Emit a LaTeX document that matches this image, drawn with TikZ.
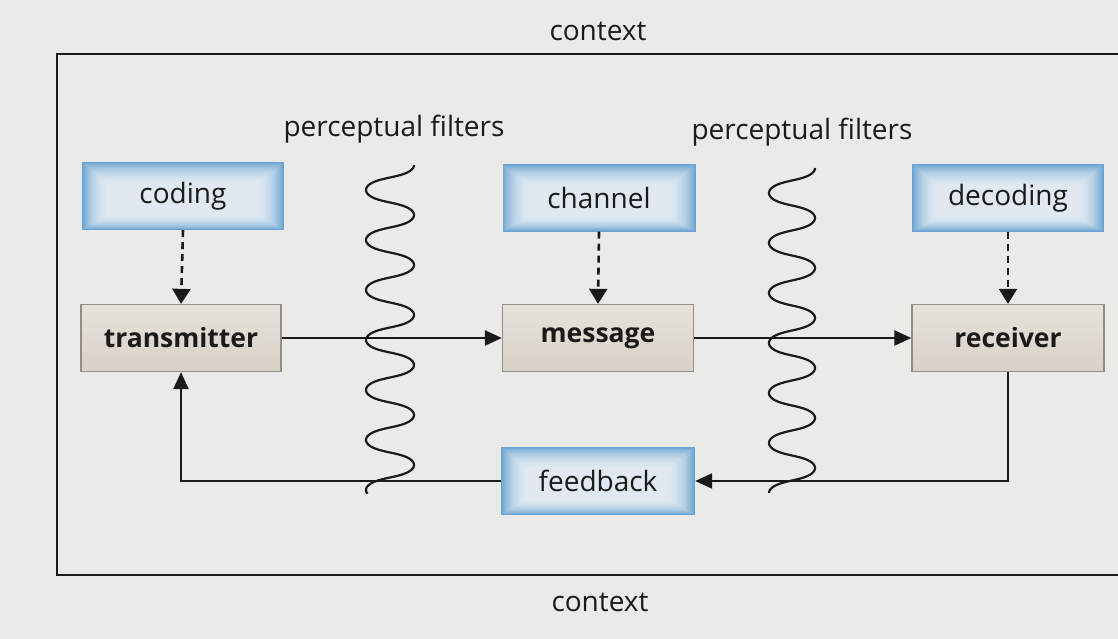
\documentclass[tikz,border=0pt]{standalone}
\usepackage{fontspec}
\setmainfont{Open Sans}
\usetikzlibrary{arrows.meta,calc}
\definecolor{paper}{HTML}{EAEAE8}
\definecolor{boxblue}{HTML}{6AA3D1}
\definecolor{beigetop}{HTML}{E6E2DB}
\definecolor{beigebot}{HTML}{D8D1C7}
\definecolor{beigeedge}{HTML}{958C82}
\definecolor{ink}{HTML}{1A1A1A}
\begin{document}
\begin{tikzpicture}[x=1pt,y=-1pt,
  txt/.style={font=\fontsize{28}{32}\selectfont, text=ink},
  bluebox/.style={rectangle, fill=boxblue, inner sep=0pt, txt,
    path picture={
      \foreach \k in {1,...,26}{
        \fill[white,opacity=0.065]
          ([xshift=\k*0.95pt,yshift=\k*0.55pt]path picture bounding box.south west)
          rectangle
          ([xshift=-\k*0.95pt,yshift=-\k*0.8pt]path picture bounding box.north east);
      }}},
  beigebox/.style={rectangle, draw=beigeedge, line width=1.3pt, inner sep=0pt,
    top color=beigetop, bottom color=beigebot,
    font=\fontsize{26.5}{30}\selectfont\bfseries, text=ink},
  arr/.style={draw=ink, line width=2.4pt, -{Triangle[length=17pt,width=15pt]}},
  dasharr/.style={draw=ink, line width=2.6pt, dash pattern=on 7pt off 5pt,
    -{Triangle[length=15pt,width=18pt]}},
  wave/.style={draw=ink, line width=2.2pt}
]
\fill[paper] (0,0) rectangle (1118,639);
\useasboundingbox (0,0) rectangle (1118,639);

% context frame
\draw[ink, line width=2pt] (1118,54) -- (57,54) -- (57,575) -- (1118,575);
\node[txt] (ctxtop) at (598,31) {context};
\node[txt] (ctxbot) at (600,602) {context};

% labels
\node[txt] (pf1) at (394,129) {perceptual filters};
\node[txt] (pf2) at (802,132) {perceptual filters};

% boxes
\node[bluebox, minimum width=202pt, minimum height=68pt] (coding) at (183,196) {coding};
\node[bluebox, minimum width=193pt, minimum height=67pt] (channel) at (599,198) {channel};
\node[bluebox, minimum width=192pt, minimum height=67pt] (decoding) at (1008,198) {decoding};
\node[beigebox, minimum width=200pt, minimum height=67pt] (transmitter) at (181,338) {transmitter};
\node[beigebox, minimum width=191pt, minimum height=67pt] (message) at (598,338) {message};
\node[beigebox, minimum width=192pt, minimum height=67pt] (receiver) at (1008,338) {receiver};
\node[bluebox, minimum width=194pt, minimum height=68pt] (feedback) at (598,481) {feedback};

% dashed arrows
\draw[dasharr] (coding.south) -- (transmitter.north);
\draw[dasharr] (channel.south) -- (message.north);
\draw[dasharr] (decoding.south) -- (receiver.north);

% solid arrows
\draw[arr] (transmitter.east) -- (message.west);
\draw[arr] (message.east) -- (receiver.west);
\draw[arr] (receiver.south) |- (feedback.east);
\draw[arr] (feedback.west) -| (transmitter.south);

% perceptual filter waves
\draw[wave] plot[variable=\t, domain=0:2360, samples=320, smooth]
  ({390+24*cos(\t)}, {165+0.13889*\t+1.4*sin(2*\t)});
\draw[wave] plot[variable=\t, domain=0:2340, samples=320, smooth]
  ({792+23*cos(\t)}, {168+0.13889*\t+1.4*sin(2*\t)});
\end{tikzpicture}
\end{document}
